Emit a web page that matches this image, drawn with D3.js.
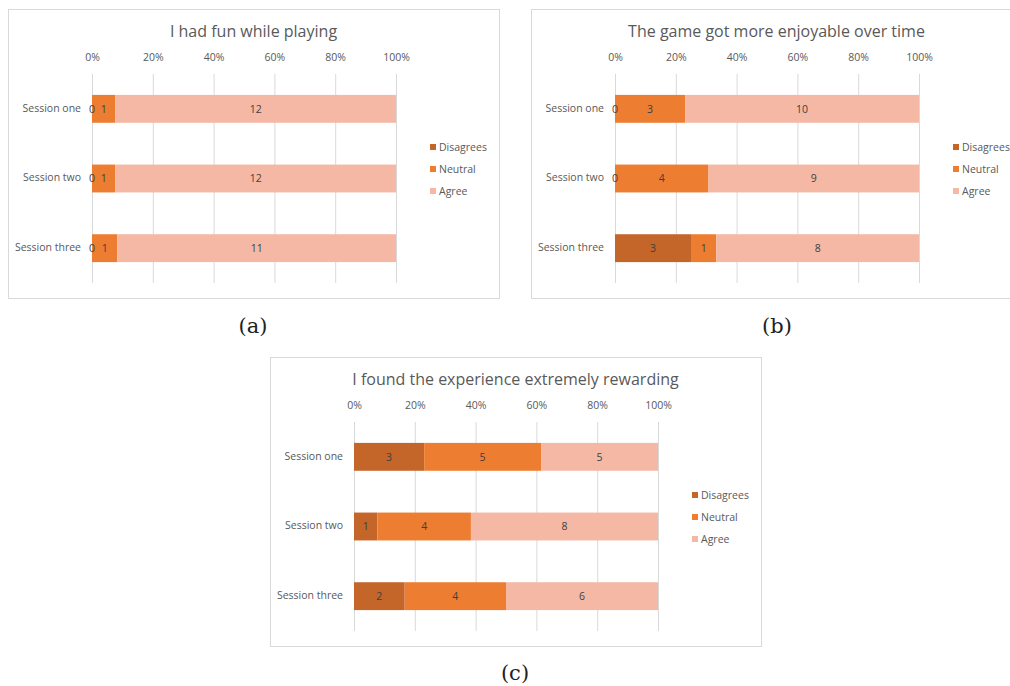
<!DOCTYPE html>
<html>

<head>
  <title>Survey</title>
  <script src="https://cdn.jsdelivr.net/npm/d3@7"></script>
  <style>
    body { margin: 0; background: #fff; }
  </style>
</head>

<body>
  <svg width="1010" height="686" id="mainsvg"></svg>
  <script>
    const categories = ['Session one', 'Session two', 'Session three'];
    const seriesNames = ['Disagrees', 'Neutral', 'Agree'];
    const ticks = [0, 0.2, 0.4, 0.6, 0.8, 1];

    // counts per session (disagrees, neutral, agree)
    const funDisagree = [0, 0, 0];
    const funNeutral = [1, 1, 1];
    const funAgree = [12, 12, 11];

    const enjoyDisagree = [0, 0, 3];
    const enjoyNeutral = [3, 4, 1];
    const enjoyAgree = [10, 9, 8];

    const rewardDisagree = [3, 1, 2];
    const rewardNeutral = [5, 4, 4];
    const rewardAgree = [5, 8, 6];

    const titles = ['I had fun while playing', 'The game got more enjoyable over time', 'I found the experience extremely rewarding'];
    const captions = ['(a)', '(b)', '(c)'];

    const colors = ['#c4652a', '#ed7d31', '#f4b8a4'];
    const font = '"Open Sans", sans-serif';

    const svg = d3.select('#mainsvg');

    const panels = [
      { x: 8, y: 9, title: titles[0], cap: captions[0], capX: 253, capY: 333, vals: [funDisagree, funNeutral, funAgree] },
      { x: 531, y: 9, title: titles[1], cap: captions[1], capX: 777, capY: 333, vals: [enjoyDisagree, enjoyNeutral, enjoyAgree] },
      { x: 270, y: 357, title: titles[2], cap: captions[2], capX: 515, capY: 680, vals: [rewardDisagree, rewardNeutral, rewardAgree] }
    ];

    const pw = 491, ph = 289;
    const x = d3.scaleLinear().domain([0, 1]).range([84, 388]);
    const y = d3.scaleBand().domain(categories).range([65, 274]).paddingInner(0.6).paddingOuter(0.3);
    const color = d3.scaleOrdinal(seriesNames, colors);

    const render = function (p) {
      const g = svg.append('g').attr('transform', `translate(${p.x}, ${p.y})`);
      g.append('rect')
        .attr('x', 0.5).attr('y', 0.5)
        .attr('width', pw).attr('height', ph)
        .attr('fill', '#fff').attr('stroke', '#d9d9d9');

      g.append('text')
        .attr('x', pw / 2).attr('y', 28)
        .attr('text-anchor', 'middle')
        .attr('font-family', font).attr('font-size', 16)
        .attr('fill', '#595959')
        .text(p.title);

      // gridlines
      g.selectAll('.grid')
        .data(ticks)
        .join('line')
        .attr('class', 'grid')
        .attr('x1', d => x(d) + 0.5).attr('x2', d => x(d) + 0.5)
        .attr('y1', 65).attr('y2', 274)
        .attr('stroke', '#d9d9d9');

      const axis = g.append('g')
        .attr('transform', 'translate(0, 55)')
        .call(d3.axisTop(x).tickValues(ticks).tickFormat(d3.format('.0%')).tickSize(0));
      axis.select('.domain').remove();
      axis.selectAll('text')
        .attr('font-family', font).attr('font-size', 10.5)
        .attr('fill', '#595959');

      const rows = categories.map((c, i) => {
        const r = { cat: c };
        seriesNames.forEach((s, j) => r[s] = p.vals[j][i]);
        return r;
      });
      const stacked = d3.stack().keys(seriesNames).offset(d3.stackOffsetExpand)(rows);

      g.selectAll('.layer')
        .data(stacked)
        .join('g')
        .attr('class', 'layer')
        .attr('fill', d => color(d.key))
        .selectAll('rect')
        .data(d => d)
        .join('rect')
        .attr('x', d => x(d[0]))
        .attr('y', d => y(d.data.cat))
        .attr('width', d => x(d[1]) - x(d[0]))
        .attr('height', y.bandwidth());

      // labels drawn on top of all bars
      g.selectAll('.lab')
        .data(stacked)
        .join('g')
        .attr('class', 'lab')
        .selectAll('text')
        .data(d => d.map(v => ({ v, key: d.key })))
        .join('text')
        .attr('x', d => (x(d.v[0]) + x(d.v[1])) / 2)
        .attr('y', d => y(d.v.data.cat) + y.bandwidth() / 2)
        .attr('dy', '0.35em')
        .attr('text-anchor', 'middle')
        .attr('font-family', font).attr('font-size', 10.5)
        .attr('fill', '#404040')
        .text(d => d.v.data[d.key]);

      g.selectAll('.cat')
        .data(categories)
        .join('text')
        .attr('class', 'cat')
        .attr('x', 73)
        .attr('y', d => y(d) + y.bandwidth() / 2 - 1)
        .attr('dy', '0.35em')
        .attr('text-anchor', 'end')
        .attr('font-family', font).attr('font-size', 10.5)
        .attr('fill', '#595959')
        .text(d => d);

      const leg = g.selectAll('.leg')
        .data(seriesNames)
        .join('g')
        .attr('class', 'leg')
        .attr('transform', (d, i) => `translate(422, ${138 + i * 22})`);
      leg.append('rect')
        .attr('x', 0).attr('y', -3).attr('width', 6).attr('height', 6)
        .attr('fill', d => color(d));
      leg.append('text')
        .attr('x', 9).attr('dy', '0.35em')
        .attr('font-family', font).attr('font-size', 10.5)
        .attr('fill', '#595959')
        .text(d => d);

      svg.append('text')
        .attr('x', p.capX).attr('y', p.capY)
        .attr('text-anchor', 'middle')
        .attr('font-family', '"DejaVu Serif", serif').attr('font-size', 21)
        .attr('fill', '#222')
        .text(p.cap);
    };

    panels.forEach(render);
  </script>
</body>

</html>
